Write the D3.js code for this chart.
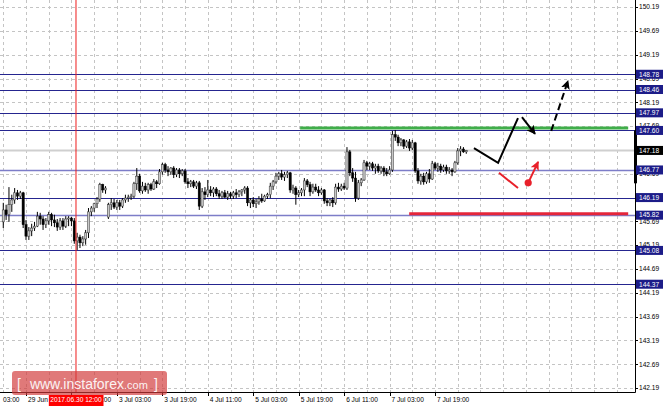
<!DOCTYPE html>
<html><head><meta charset="utf-8">
<script src="https://cdn.jsdelivr.net/npm/d3@7"></script>
<style>body{margin:0;background:#fff}svg{display:block}text{font-family:"Liberation Sans",Arial,sans-serif}</style>
</head><body><svg id="c" width="664" height="407"></svg>
<script>
// ---------- DATA ----------
const closes = [145.93,145.83,146.04,146.14,146.29,146.22,146.29,145.62,145.38,145.49,145.55,145.59,145.80,145.74,145.62,145.70,145.83,145.72,145.66,145.57,145.70,145.59,145.74,145.76,145.70,145.28,145.36,145.24,145.32,145.45,145.89,145.97,146.06,146.16,146.46,146.35,146.39,146.04,146.08,145.99,146.08,146.01,146.14,146.18,146.20,146.22,146.48,146.64,146.33,146.43,146.35,146.46,146.37,146.52,146.48,146.73,146.88,146.77,146.73,146.81,146.67,146.77,146.69,146.75,146.52,146.48,146.52,146.43,146.50,146.01,146.31,146.25,146.35,146.29,146.37,146.27,146.22,146.29,146.20,146.27,146.22,146.29,146.25,146.31,146.35,146.39,146.08,146.14,146.06,146.10,146.16,146.12,146.22,146.25,146.43,146.52,146.64,146.69,146.62,146.67,146.71,146.35,146.39,146.25,146.29,146.35,146.54,146.46,146.31,146.41,146.35,146.29,146.35,146.12,146.08,146.14,146.08,146.41,146.37,146.43,146.39,147.15,146.71,146.60,146.18,146.50,146.56,146.92,146.85,146.90,146.81,146.85,146.75,146.81,146.73,146.69,146.77,147.51,147.46,147.34,147.40,147.27,147.36,147.23,147.34,146.75,146.54,146.64,146.52,146.69,146.58,146.90,146.81,146.85,146.77,146.83,146.75,146.77,146.73,146.92,147.17,147.21,147.15,147.18];
const highs = [146.08,146.04,146.41,146.25,146.39,146.35,146.33,146.31,145.72,145.57,145.64,145.68,145.89,145.87,145.80,145.76,145.89,145.87,145.83,145.74,145.76,145.76,145.80,145.80,145.78,145.76,145.45,145.41,145.38,145.51,145.97,146.01,146.08,146.20,146.50,146.48,146.43,146.08,146.18,146.16,146.14,146.14,146.18,146.25,146.25,146.27,146.52,146.81,146.69,146.52,146.50,146.50,146.50,146.58,146.56,146.79,146.92,146.92,146.85,146.83,146.85,146.81,146.81,146.79,146.79,146.60,146.56,146.56,146.54,146.54,146.39,146.41,146.56,146.43,146.41,146.41,146.35,146.33,146.35,146.33,146.31,146.33,146.37,146.35,146.37,146.43,146.43,146.18,146.20,146.16,146.22,146.27,146.25,146.29,146.50,146.56,146.71,146.73,146.77,146.73,146.75,146.73,146.46,146.43,146.35,146.39,146.60,146.58,146.52,146.48,146.48,146.43,146.39,146.37,146.18,146.16,146.20,146.48,146.50,146.48,146.50,147.25,147.19,146.81,146.73,146.56,146.60,146.98,146.96,146.94,146.94,146.90,146.90,146.85,146.85,146.81,146.85,147.59,147.61,147.51,147.44,147.42,147.40,147.42,147.40,147.36,146.81,146.69,146.71,146.73,146.79,146.96,146.94,146.92,146.90,146.88,146.88,146.83,146.81,146.96,147.23,147.27,147.25,147.19];
const lows = [145.55,145.72,145.68,145.89,146.06,146.14,146.16,145.55,145.30,145.30,145.38,145.49,145.57,145.62,145.51,145.55,145.62,145.59,145.57,145.49,145.51,145.51,145.55,145.59,145.59,145.22,145.09,145.13,145.17,145.20,145.34,145.80,145.89,145.97,146.10,146.29,146.27,145.74,145.93,145.95,145.93,145.93,145.97,146.08,146.10,146.14,146.18,146.35,146.29,146.27,146.31,146.27,146.33,146.35,146.39,146.46,146.67,146.71,146.64,146.67,146.60,146.62,146.60,146.64,146.48,146.39,146.41,146.39,146.37,145.93,145.97,146.14,146.20,146.22,146.20,146.22,146.16,146.16,146.18,146.14,146.16,146.16,146.18,146.20,146.22,146.27,146.01,145.97,145.99,145.97,146.04,146.08,146.10,146.16,146.18,146.35,146.48,146.56,146.56,146.54,146.60,146.29,146.27,146.04,146.20,146.22,146.22,146.41,146.22,146.27,146.31,146.22,146.25,146.06,146.01,146.01,145.99,146.04,146.31,146.33,146.35,146.35,146.64,146.52,146.10,146.14,146.43,146.54,146.77,146.77,146.75,146.69,146.71,146.69,146.64,146.64,146.67,146.73,147.38,147.27,147.27,147.21,147.23,147.17,147.19,146.71,146.48,146.46,146.46,146.48,146.50,146.56,146.77,146.73,146.71,146.73,146.69,146.69,146.64,146.71,146.88,147.06,147.13,147.11];
const gapOpens = {0: 145.68, 37: 145.78};   // bars that did not open at the previous close

const priceTicks = [142.19,142.69,143.19,143.69,144.19,144.69,145.19,145.69,146.19,146.69,147.19,147.69,148.19,148.69,149.19,149.69,150.19];
const timeTickBars = [-8,8,24,40,56,72,88,104,120,136,152];
const timeTickLabels = ["03:00","29 Jun 19:00","30 Jun 11:00","3 Jul 03:00","3 Jul 19:00","4 Jul 11:00","5 Jul 03:00","5 Jul 19:00","6 Jul 11:00","7 Jul 03:00","7 Jul 19:00"];
const levels = [148.78,148.46,147.97,147.60,146.77,146.19,145.82,145.08,144.37];
const softLevels = [146.77,145.82];
const currentPrice = 147.18;
const markerBar = 25.6, markerLabel = "2017.06.30 12:00";
const resistance = {from:104.5, to:220, price:147.65};
const support = {from:142.9, to:220, price:145.85};
const fcSolid = [[165.7,147.23],[174.2,146.92],[181.2,147.86]];
const fcArrow = [[182.6,147.88],[187.2,147.53]];
const fcDashed = [[192.9,147.59],[198.8,148.64]];
const altLine = [[174.5,146.71],[181.2,146.39]];
const altArrow = [[184.8,146.50],[188.3,146.94]];

// ---------- CHART ----------
const plotR = 635, plotB = 392;
const svg = d3.select("#c");
const x = d3.scaleLinear().domain([-1.155, 222.4]).range([0, plotR]);
const y = d3.scaleLinear().domain([142.106, 150.34]).range([plotB, 0]);

const candles = closes.map((c,i)=>{
  const o = (i in gapOpens) ? gapOpens[i] : closes[i-1];
  return {i, o, c, h: Math.max(highs[i], o, c), l: Math.min(lows[i], o, c)};
});

const defs = svg.append("defs");
defs.append("clipPath").attr("id","plot").append("rect").attr("x",0).attr("y",0).attr("width",plotR).attr("height",plotB);
function marker(id,color){
  defs.append("marker").attr("id",id).attr("viewBox","0 0 10 10").attr("refX",9).attr("refY",5)
    .attr("markerWidth",4.5).attr("markerHeight",4.5).attr("orient","auto").attr("markerUnits","strokeWidth")
    .append("path").attr("d","M0,0 L10,5 L0,10 L2.5,5 Z").attr("fill",color);
}
marker("ab","#000"); marker("ar","#e8202a");

const g = svg.append("g").attr("clip-path","url(#plot)");

// grid
const gridBars = d3.range(0, 223, 8);
g.selectAll(".vg").data(gridBars).join("line")
  .attr("x1",d=>Math.round(x(d))+0.5).attr("x2",d=>Math.round(x(d))+0.5).attr("y1",0).attr("y2",plotB)
  .attr("stroke","#c4c4c4").attr("stroke-dasharray","3,3");
g.selectAll(".hg").data(priceTicks).join("line")
  .attr("x1",0).attr("x2",plotR).attr("y1",d=>Math.round(y(d))+0.5).attr("y2",d=>Math.round(y(d))+0.5)
  .attr("stroke","#c4c4c4").attr("stroke-dasharray","3,3");

// current price line
g.append("line").attr("x1",0).attr("x2",plotR).attr("y1",y(currentPrice)).attr("y2",y(currentPrice))
  .attr("stroke","#cfcfcf").attr("stroke-width",2);

// levels
g.selectAll(".lv").data(levels).join("line")
  .attr("x1",0).attr("x2",plotR)
  .attr("y1",d=>Math.round(y(d))+0.5).attr("y2",d=>Math.round(y(d))+0.5)
  .attr("stroke",d=>softLevels.includes(d)?"#7d7dc8":"#25258f")
  .attr("stroke-width",d=>softLevels.includes(d)?1.6:1);

// candles
const bw = 2.2;
g.selectAll(".wick").data(candles).join("line")
  .attr("x1",d=>x(d.i)).attr("x2",d=>x(d.i)).attr("y1",d=>y(d.h)).attr("y2",d=>y(d.l))
  .attr("stroke","#000").attr("stroke-width",1);
g.selectAll(".body").data(candles).join("rect")
  .attr("x",d=>x(d.i)-bw/2).attr("width",bw)
  .attr("y",d=>y(Math.max(d.o,d.c))).attr("height",d=>Math.max(1,Math.abs(y(d.o)-y(d.c))))
  .attr("fill",d=>d.c>=d.o?"#c8c8c8":"#000")
  .attr("stroke",d=>d.c>=d.o?"#333":"#000").attr("stroke-width",0.5);

// marker vertical line
g.append("line").attr("x1",x(markerBar)).attr("x2",x(markerBar)).attr("y1",0).attr("y2",plotB)
  .attr("stroke","#ee1c1c").attr("stroke-width",1);

// resistance / support
g.append("line").attr("x1",x(resistance.from)).attr("x2",x(resistance.to))
  .attr("y1",y(resistance.price)).attr("y2",y(resistance.price)).attr("stroke","#3fae49").attr("stroke-width",3);
g.append("line").attr("x1",x(support.from)).attr("x2",x(support.to))
  .attr("y1",y(support.price)).attr("y2",y(support.price)).attr("stroke","#e5263a").attr("stroke-width",3);

// forecast
const ln = d3.line().x(d=>x(d[0])).y(d=>y(d[1]));
g.append("path").attr("d",ln(fcSolid)).attr("fill","none").attr("stroke","#000").attr("stroke-width",2);
g.append("path").attr("d",ln(fcArrow)).attr("fill","none").attr("stroke","#000").attr("stroke-width",2).attr("marker-end","url(#ab)");
g.append("path").attr("d",ln(fcDashed)).attr("fill","none").attr("stroke","#000").attr("stroke-width",2)
  .attr("stroke-dasharray","7,4").attr("marker-end","url(#ab)");
g.append("path").attr("d",ln(altLine)).attr("fill","none").attr("stroke","#e8202a").attr("stroke-width",2);
g.append("path").attr("d",ln(altArrow)).attr("fill","none").attr("stroke","#e8202a").attr("stroke-width",2).attr("marker-end","url(#ar)");
g.append("circle").attr("cx",x(altArrow[0][0])).attr("cy",y(altArrow[0][1])).attr("r",3.6).attr("fill","#e8202a");

// axes frame
svg.append("line").attr("x1",plotR+0.5).attr("x2",plotR+0.5).attr("y1",0).attr("y2",plotB+0.5).attr("stroke","#000");
svg.append("line").attr("x1",0).attr("x2",plotR+0.5).attr("y1",plotB+0.5).attr("y2",plotB+0.5).attr("stroke","#000");
svg.append("rect").attr("x",plotR-1).attr("width",3).attr("y",y(147.60)).attr("height",y(146.49)-y(147.60)).attr("fill","#000");

// price axis
const fs = 6.6;
svg.selectAll(".pt").data(priceTicks).join("line")
  .attr("x1",plotR).attr("x2",plotR+3).attr("y1",d=>Math.round(y(d))+0.5).attr("y2",d=>Math.round(y(d))+0.5).attr("stroke","#000");
svg.selectAll(".pl").data(priceTicks).join("text")
  .attr("x",plotR+4).attr("y",d=>y(d)).attr("dy","0.35em").attr("font-size",fs).attr("fill","#000").text(d=>d.toFixed(2));
const boxes = levels.map(v=>({v,bg:"#1c1c88"})).concat([{v:currentPrice,bg:"#000"}]);
const bg = svg.selectAll(".lb").data(boxes).join("g").attr("transform",d=>`translate(${plotR+1},${y(d.v)})`);
bg.append("rect").attr("x",0).attr("y",-4.5).attr("width",27).attr("height",9).attr("fill",d=>d.bg);
bg.append("text").attr("x",3).attr("y",0).attr("dy","0.35em").attr("font-size",fs).attr("fill","#fff").text(d=>d.v.toFixed(2));

// time axis
svg.selectAll(".tt").data(timeTickBars).join("line")
  .attr("x1",d=>Math.round(x(d))+0.5).attr("x2",d=>Math.round(x(d))+0.5).attr("y1",plotB).attr("y2",plotB+4).attr("stroke","#000");
svg.selectAll(".tl").data(timeTickBars).join("text")
  .attr("x",d=>Math.max(3, x(d)+2)).attr("y",401.5).attr("font-size",fs).attr("fill","#000").text((d,i)=>timeTickLabels[i]);
const mt = svg.append("g");
const mtText = mt.append("text").attr("x",x(markerBar)).attr("y",401.5).attr("text-anchor","middle")
  .attr("font-size",fs).attr("fill","#fff").text(markerLabel);
const bb = mtText.node().getBBox();
mt.insert("rect","text").attr("x",bb.x-1.5).attr("y",395).attr("width",bb.width+3).attr("height",11).attr("fill","#ff0000");

// watermark
const wm = svg.append("g");
wm.append("rect").attr("x",12).attr("y",371).attr("width",155).attr("height",24).attr("rx",3)
  .attr("fill","#d23a3a").attr("fill-opacity",0.68);
const wt = wm.append("text").attr("x",17).attr("y",389).attr("fill","#fff").attr("fill-opacity",0.92).attr("font-size",14);
wt.append("tspan").text("[");
wt.append("tspan").attr("dx",9).text("www.instaforex");
wt.append("tspan").attr("font-size",11).text(".com");
wt.append("tspan").attr("dx",6).text("]");
</script></body></html>
